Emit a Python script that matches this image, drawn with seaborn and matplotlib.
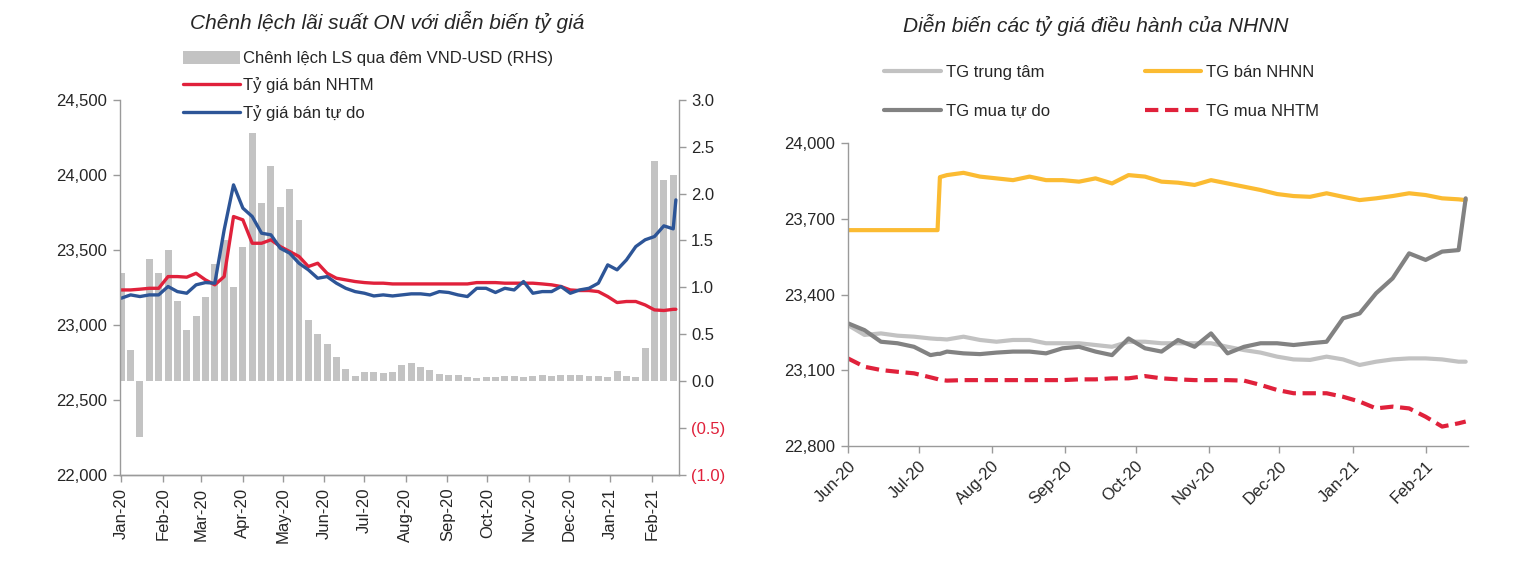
import pandas as pd
import numpy as np
import matplotlib
matplotlib.use('Agg')
import matplotlib.pyplot as plt
import matplotlib.dates as mdates
from matplotlib.patches import Patch
from matplotlib.lines import Line2D
import seaborn as sns

# ---- left chart: weekly readings, Jan 2020 - Feb 2021 ----
left_dates = list(pd.date_range('2020-01-01', periods=60, freq='7D')) + [pd.Timestamp('2021-02-19')]

ty_gia_ban_nhtm = [23233, 23233, 23238, 23244, 23244, 23322, 23322, 23318, 23344, 23300,
                   23267, 23322, 23722, 23700, 23544, 23544, 23567, 23522, 23489, 23456,
                   23389, 23411, 23344, 23311, 23300, 23289, 23282, 23278, 23278, 23273,
                   23273, 23273, 23273, 23273, 23273, 23273, 23273, 23273, 23282, 23282,
                   23282, 23278, 23278, 23278, 23278, 23273, 23267, 23256, 23233, 23229,
                   23229, 23222, 23189, 23149, 23156, 23156, 23133, 23100, 23096, 23104,
                   23104]
ty_gia_ban_tu_do = [23178, 23200, 23189, 23200, 23200, 23256, 23222, 23211, 23267, 23282,
                    23278, 23633, 23933, 23778, 23722, 23611, 23600, 23511, 23478, 23411,
                    23367, 23311, 23322, 23278, 23244, 23222, 23211, 23193, 23200, 23193,
                    23200, 23207, 23207, 23200, 23222, 23216, 23200, 23189, 23244, 23244,
                    23216, 23244, 23233, 23289, 23211, 23222, 23222, 23256, 23211, 23233,
                    23244, 23278, 23400, 23367, 23433, 23522, 23567, 23589, 23660, 23640,
                    23833]

bar_dates = pd.date_range('2020-01-01', periods=60, freq='7D')
chenh_lech_ls = [1.15, 0.33, -0.60, 1.30, 1.15, 1.40, 0.85, 0.55, 0.70, 0.90,
                 1.25, 1.50, 1.00, 1.43, 2.65, 1.90, 2.29, 1.86, 2.05, 1.72,
                 0.65, 0.50, 0.40, 0.26, 0.13, 0.06, 0.10, 0.10, 0.09, 0.10,
                 0.17, 0.19, 0.15, 0.12, 0.08, 0.07, 0.07, 0.05, 0.03, 0.05,
                 0.05, 0.06, 0.06, 0.05, 0.06, 0.07, 0.06, 0.07, 0.07, 0.07,
                 0.06, 0.06, 0.05, 0.11, 0.06, 0.05, 0.35, 2.35, 2.15, 2.20]

# ---- right chart: weekly readings, Jun 2020 - Feb 2021 ----
right_dates = pd.to_datetime([
    '2020-06-01', '2020-06-08', '2020-06-15', '2020-06-22', '2020-06-29', '2020-07-06',
    '2020-07-09', '2020-07-10', '2020-07-13', '2020-07-20', '2020-07-27', '2020-08-03',
    '2020-08-10', '2020-08-17', '2020-08-24', '2020-08-31', '2020-09-07', '2020-09-14',
    '2020-09-21', '2020-09-28', '2020-10-05', '2020-10-12', '2020-10-19', '2020-10-26',
    '2020-11-02', '2020-11-09', '2020-11-16', '2020-11-23', '2020-11-30', '2020-12-07',
    '2020-12-14', '2020-12-21', '2020-12-28', '2021-01-04', '2021-01-11', '2021-01-18',
    '2021-01-25', '2021-02-01', '2021-02-08', '2021-02-15', '2021-02-18'])

tg_trung_tam = [23279, 23240, 23246, 23237, 23233, 23226, 23224, 23224, 23222, 23233,
                23220, 23213, 23220, 23220, 23207, 23207, 23207, 23200, 23193, 23213,
                23213, 23207, 23207, 23207, 23207, 23193, 23180, 23170, 23154, 23143,
                23141, 23154, 23143, 23121, 23134, 23143, 23147, 23147, 23143, 23134,
                23134]
tg_ban_nhnn = [23655, 23655, 23655, 23655, 23655, 23655, 23655, 23865, 23873, 23882,
               23867, 23860, 23853, 23867, 23853, 23853, 23847, 23860, 23840, 23873,
               23867, 23847, 23843, 23834, 23853, 23840, 23827, 23814, 23798, 23790,
               23787, 23801, 23787, 23774, 23781, 23790, 23801, 23794, 23781, 23777,
               23774]
tg_mua_tu_do = [23286, 23259, 23213, 23207, 23193, 23160, 23165, 23165, 23174, 23167,
                23164, 23170, 23174, 23174, 23167, 23187, 23193, 23174, 23160, 23226,
                23187, 23174, 23220, 23193, 23246, 23167, 23193, 23207, 23207, 23200,
                23207, 23213, 23306, 23325, 23405, 23464, 23563, 23537, 23570, 23576,
                23781]
tg_mua_nhtm = [23147, 23114, 23101, 23094, 23088, 23072, 23065, 23062, 23059, 23061,
               23061, 23061, 23061, 23061, 23061, 23061, 23064, 23064, 23068, 23068,
               23077, 23068, 23064, 23061, 23061, 23061, 23059, 23042, 23022, 23009,
               23009, 23009, 22995, 22976, 22949, 22956, 22949, 22916, 22877, 22890,
               22897]

RED = '#E0213B'
BLUE = '#2D5597'
BAR = '#C3C3C3'
YELLOW = '#FBBB32'
LGRAY = '#C2C2C2'
DGRAY = '#828282'
SPINE = '#9A9A9A'

sns.set_style('white')
plt.rcParams['font.family'] = ['Liberation Sans', 'DejaVu Sans']
plt.rcParams['font.size'] = 12
title_font = dict(family=['Liberation Sans Narrow', 'Liberation Sans', 'DejaVu Sans'],
                  style='italic', size=15)

fig = plt.figure(figsize=(15.18, 5.8), dpi=100)

# ================= left chart =================
ax1 = fig.add_axes([0.079, 0.181, 0.368, 0.647])
ax2 = ax1.twinx()
ax1.set_zorder(2)
ax1.patch.set_visible(False)

ax2.bar(bar_dates, chenh_lech_ls, width=5.2, color=BAR, linewidth=0)
sns.lineplot(x=left_dates, y=ty_gia_ban_nhtm, ax=ax1, color=RED, lw=2.4)
sns.lineplot(x=left_dates, y=ty_gia_ban_tu_do, ax=ax1, color=BLUE, lw=2.4)

ax1.set_ylim(22000, 24500)
ax1.set_yticks(np.arange(22000, 24501, 500))
ax1.set_yticklabels([f'{v:,}' for v in range(22000, 24501, 500)])
ax2.set_ylim(-1.0, 3.0)
r_ticks = np.arange(-1.0, 3.01, 0.5)
ax2.set_yticks(r_ticks)
ax2.set_yticklabels([f'({abs(v):.1f})' if v < 0 else f'{v:.1f}' for v in r_ticks])
for lab, v in zip(ax2.get_yticklabels(), r_ticks):
    if v < 0:
        lab.set_color(RED)

ax1.set_xlim(pd.Timestamp('2019-12-31'), pd.Timestamp('2021-02-21'))
ax1.xaxis.set_major_locator(mdates.MonthLocator())
ax1.xaxis.set_major_formatter(mdates.DateFormatter('%b-%y'))
for lab in ax1.get_xticklabels():
    lab.set_rotation(90)

for a in (ax1, ax2):
    a.set_xlabel('')
    a.set_ylabel('')
    a.spines['top'].set_visible(False)
    for s in ('left', 'right', 'bottom'):
        a.spines[s].set_color(SPINE)
        a.spines[s].set_linewidth(1.0)
    a.tick_params(axis='both', which='major', length=5, width=1, color=SPINE,
                  direction='out', labelsize=12, pad=4)
ax2.spines['left'].set_visible(False)
ax1.spines['right'].set_visible(False)
ax1.tick_params(axis='y', left=True)
ax1.tick_params(axis='x', bottom=True)
ax2.tick_params(axis='y', right=True)

fig.text(0.255, 0.962, 'Chênh lệch lãi suất ON với diễn biến tỷ giá',
         ha='center', va='center', **title_font)

left_handles = [Patch(facecolor=BAR, edgecolor='none'),
                Line2D([], [], color=RED, lw=2.4),
                Line2D([], [], color=BLUE, lw=2.4)]
left_labels = ['Chênh lệch LS qua đêm VND-USD (RHS)', 'Tỷ giá bán NHTM', 'Tỷ giá bán tự do']
fig.legend(left_handles, left_labels, loc='upper left',
           bbox_to_anchor=(183 / 1518, 1 - 51 / 580), frameon=False, fontsize=12,
           handlelength=3.4, handleheight=0.8, handletextpad=0.2, labelspacing=0.68,
           borderpad=0, borderaxespad=0)

# ================= right chart =================
ax3 = fig.add_axes([0.5586, 0.231, 0.4085, 0.5224])
sns.lineplot(x=right_dates, y=tg_trung_tam, ax=ax3, color=LGRAY, lw=3)
sns.lineplot(x=right_dates, y=tg_ban_nhnn, ax=ax3, color=YELLOW, lw=3)
sns.lineplot(x=right_dates, y=tg_mua_tu_do, ax=ax3, color=DGRAY, lw=3)
sns.lineplot(x=right_dates, y=tg_mua_nhtm, ax=ax3, color=RED, lw=3, dashes=False)
ax3.lines[-1].set_dashes((3.2, 1.6))

ax3.set_ylim(22800, 24000)
ax3.set_yticks(np.arange(22800, 24001, 300))
ax3.set_yticklabels([f'{v:,}' for v in range(22800, 24001, 300)])
ax3.set_xlim(pd.Timestamp('2020-06-01'), pd.Timestamp('2021-02-19'))
ax3.xaxis.set_major_locator(mdates.MonthLocator())
ax3.xaxis.set_major_formatter(mdates.DateFormatter('%b-%y'))
for lab in ax3.get_xticklabels():
    lab.set_rotation(45)
    lab.set_ha('right')
    lab.set_rotation_mode('anchor')
ax3.set_xlabel('')
ax3.set_ylabel('')
for s in ('top', 'right'):
    ax3.spines[s].set_visible(False)
for s in ('left', 'bottom'):
    ax3.spines[s].set_color(SPINE)
    ax3.spines[s].set_linewidth(1.0)
ax3.tick_params(axis='both', which='major', length=5, width=1, color=SPINE,
                direction='out', labelsize=12, pad=4, left=True, bottom=True)

fig.text(0.722, 0.957, 'Diễn biến các tỷ giá điều hành của NHNN',
         ha='center', va='center', **title_font)

right_handles = [Line2D([], [], color=LGRAY, lw=3),
                 Line2D([], [], color=DGRAY, lw=3),
                 Line2D([], [], color=YELLOW, lw=3),
                 Line2D([], [], color=RED, lw=3, dashes=(3.2, 1.6))]
right_labels = ['TG trung tâm', 'TG mua tự do', 'TG bán NHNN', 'TG mua NHTM']
fig.legend(right_handles, right_labels, loc='upper left', ncol=2,
           bbox_to_anchor=(884 / 1518, 1 - 65 / 580), frameon=False, fontsize=12,
           handlelength=3.4, handletextpad=0.3, labelspacing=1.42, columnspacing=5.7,
           borderpad=0, borderaxespad=0)

fig.savefig('out.png', dpi=100)
